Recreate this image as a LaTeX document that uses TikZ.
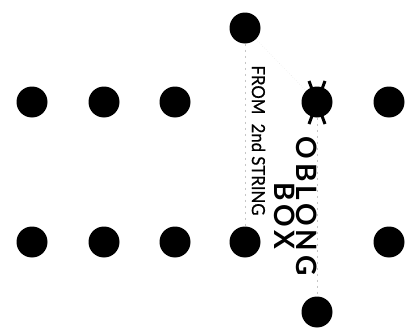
\documentclass[tikz,border=0pt]{standalone}
\usepackage{fontspec}
\setmainfont{Lato}
\usetikzlibrary{positioning}

\begin{document}
\begin{tikzpicture}[x=1pt,y=-1pt,
  every node/.style={circle,fill=black,inner sep=0pt,minimum size=31pt},
  guide/.style={gray!45,dash pattern=on 2pt off 4pt,line width=0.6pt},
  label/.style={rectangle,fill=none,minimum size=0pt,inner sep=0pt,rotate=-90},
  bigword/.style={label,font=\bfseries\fontsize{28}{28}\selectfont\addfontfeature{LetterSpace=14}}]
  \useasboundingbox (0,0) rectangle (416,332);
  % upper row
  \node (u1) at (32,102) {};
  \node (u2) at (104,102) {};
  \node (u3) at (175,102) {};
  \node (ux) at (317,102) {};
  \node (u5) at (389,102) {};
  % lower row
  \node (l1) at (32,242) {};
  \node (l2) at (104,242) {};
  \node (l3) at (175,242) {};
  \node (l4) at (245,242) {};
  \node (l5) at (389,242) {};
  % the two odd ones
  \node (top) at (245,28) {};
  \node (bot) at (317,312) {};
  \draw[guide] (top) -- (l4);
  \draw[guide] (ux) -- (bot);
  \draw[gray!30,dotted] (top) -- (ux);
  % string crossing the marked dot
  \draw[line width=3pt] (309,81) -- (325,124);
  \draw[line width=3pt] (325,81) -- (309,124);
  \node[label,font=\fontsize{18}{18}\selectfont\addfontfeature{FakeBold=0.8}] (from) at (258.5,140.5) {\scalebox{0.93}[1]{FROM\hspace{10pt}2nd STRING}};
  \node[bigword] (oblong) at (307,206) {OBLONG};
  \node[bigword] (box) at (285,216) {BOX};
\end{tikzpicture}
\end{document}
